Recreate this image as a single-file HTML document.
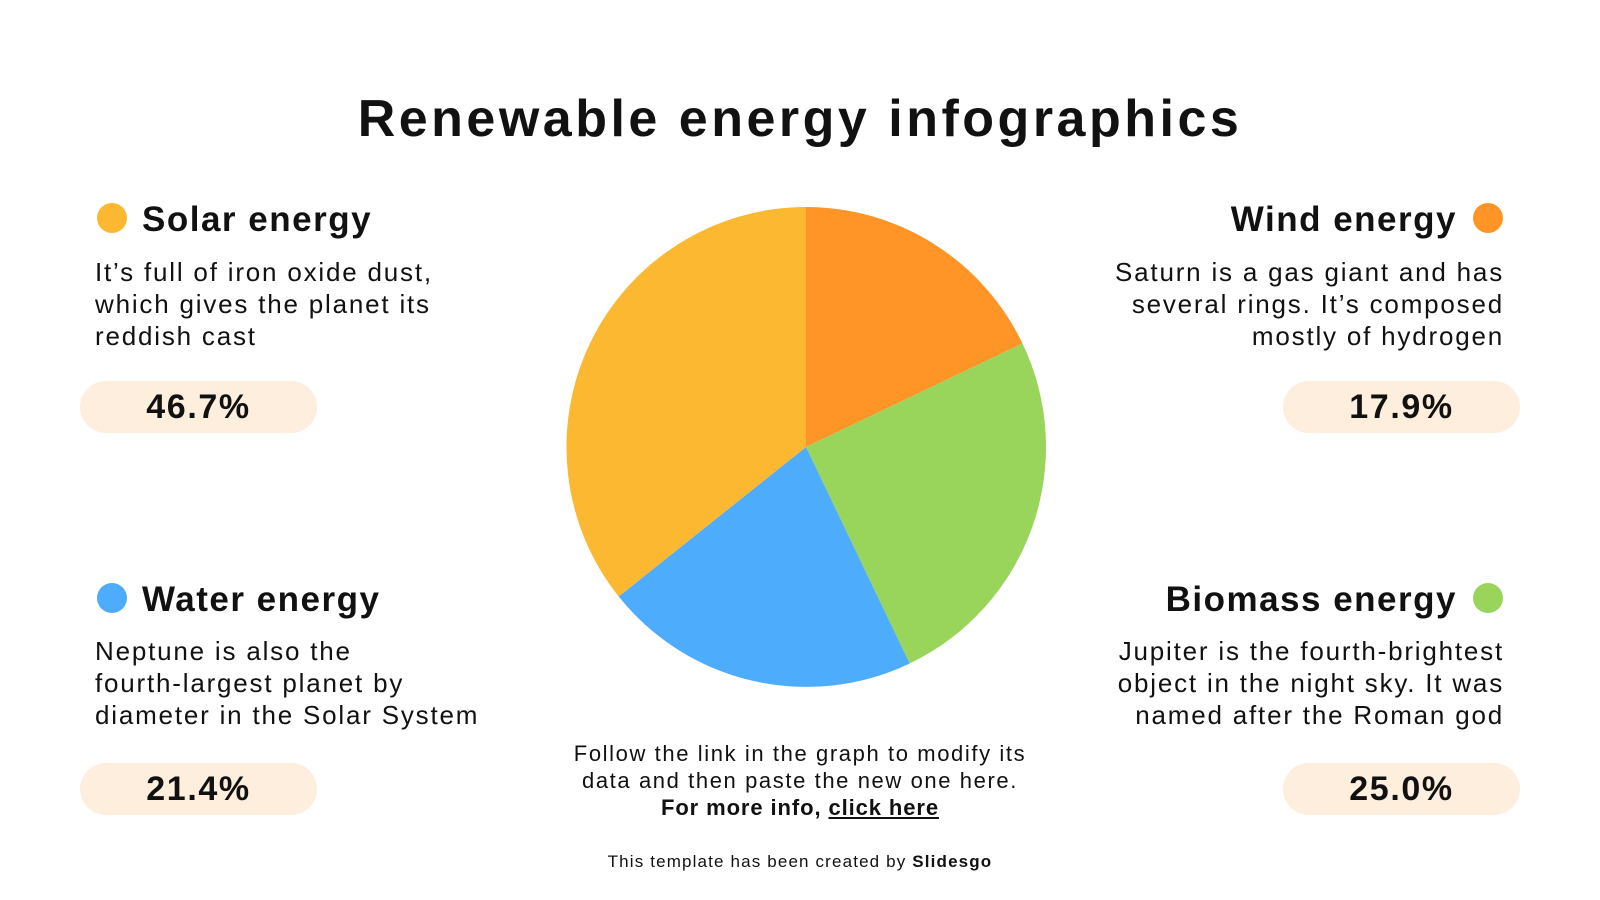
<!DOCTYPE html>
<html><head><meta charset="utf-8"><style>
body{margin:0;width:1600px;height:900px;background:#fff;position:relative;overflow:hidden;font-family:"Liberation Sans",sans-serif;color:#111}
.a{position:absolute;white-space:nowrap}
.t{font-weight:bold;font-size:35px;letter-spacing:1.5px}
.b{font-size:26px;line-height:32px;letter-spacing:1.8px}
.pill{position:absolute;width:237px;height:52px;border-radius:26px;background:#fdeedd;text-align:center;font-weight:bold;font-size:34px;line-height:52px;letter-spacing:1.6px}
.dot{position:absolute;width:30px;height:30px;border-radius:50%}
.r{text-align:right}
</style></head><body>
<div class="a" style="left:0;width:1600px;text-align:center;top:89px;font-size:52px;font-weight:bold;letter-spacing:3.5px">Renewable energy infographics</div>

<div class="dot" style="left:97px;top:203px;background:#fbb830"></div>
<div class="a t" style="left:142px;top:200px">Solar energy</div>
<div class="a b" style="left:95px;top:256px">It’s full of iron oxide dust,<br>which gives the planet its<br>reddish cast</div>
<div class="pill" style="left:80px;top:381px">46.7%</div>

<div class="dot" style="left:97px;top:583px;background:#4dacfb"></div>
<div class="a t" style="left:142px;top:580px">Water energy</div>
<div class="a b" style="left:95px;top:635px">Neptune is also the<br>fourth-largest planet by<br>diameter in the Solar System</div>
<div class="pill" style="left:80px;top:763px">21.4%</div>

<div class="dot" style="left:1473px;top:203px;background:#ff9526"></div>
<div class="a t r" style="right:143px;top:200px">Wind energy</div>
<div class="a b r" style="right:96px;top:256px">Saturn is a gas giant and has<br>several rings. It’s composed<br>mostly of hydrogen</div>
<div class="pill" style="left:1283px;top:381px">17.9%</div>

<div class="dot" style="left:1473px;top:583px;background:#98d55a"></div>
<div class="a t r" style="right:143px;top:580px">Biomass energy</div>
<div class="a b r" style="right:96px;top:635px">Jupiter is the fourth-brightest<br>object in the night sky. It was<br>named after the Roman god</div>
<div class="pill" style="left:1283px;top:763px">25.0%</div>

<svg class="a" style="left:0;top:0" width="1600" height="900">
<path d="M806,447 L806,207 A240,240 0 0 1 1022.5,343.5 Z" fill="#ff9526"/>
<path d="M806,447 L1022.5,343.5 A240,240 0 0 1 909.7,663.5 Z" fill="#98d55a"/>
<path d="M806,447 L909.7,663.5 A240,240 0 0 1 618.7,596.5 Z" fill="#4dacfb"/>
<path d="M806,447 L618.7,596.5 A240,240 0 0 1 806,207 Z" fill="#fbb830"/>
</svg>

<div class="a" style="left:0;width:1600px;text-align:center;top:740px;font-size:22px;line-height:27px;letter-spacing:1.6px">Follow the link in the graph to modify its<br>data and then paste the new one here.<br><b style="letter-spacing:0.9px">For more info, <u>click here</u></b></div>
<div class="a" style="left:0;width:1600px;text-align:center;top:852px;font-size:17px;letter-spacing:1.15px">This template has been created by <b>Slidesgo</b></div>
</body></html>
